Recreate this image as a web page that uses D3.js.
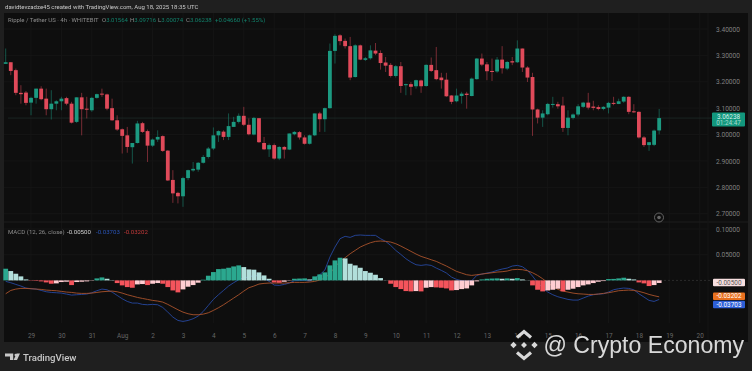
<!DOCTYPE html>
<html lang="en">
<head>
    <meta charset="UTF-8">
    <title>XRP/USDT 4h with MACD</title>
    <style>
        html, body { margin: 0; padding: 0; background: #1f1f1f; overflow: hidden; }
        text { font-family: Roboto, "Liberation Sans", sans-serif; }
    </style>
</head>
<body>
    <div id="chart-container"></div>
    <script src="https://d3js.org/d3.v7.min.js"></script>
    <script>
        const WIDTH = 752;
        const HEIGHT = 371;

        // candles, one per 4h
        const opens = [3.268,3.274,3.244,3.158,3.159,3.121,3.139,3.174,3.136,3.096,3.117,3.126,3.138,3.117,3.048,3.141,3.098,3.092,3.139,3.155,3.152,3.100,3.054,3.020,2.997,2.952,2.968,3.043,3.013,2.958,2.981,2.994,2.939,2.828,2.779,2.766,2.835,2.864,2.867,2.893,2.915,2.947,2.997,3.011,2.991,3.029,3.048,3.071,3.037,3.000,3.062,2.968,2.944,2.960,2.909,2.953,2.943,3.001,3.009,2.989,2.965,2.997,3.080,3.058,3.100,3.317,3.376,3.355,3.335,3.218,3.338,3.283,3.289,3.318,3.309,3.273,3.264,3.222,3.259,3.187,3.191,3.183,3.205,3.184,3.264,3.244,3.216,3.208,3.148,3.126,3.146,3.155,3.146,3.210,3.288,3.266,3.241,3.239,3.284,3.250,3.278,3.274,3.326,3.254,3.218,3.095,3.064,3.077,3.114,3.115,3.110,3.025,3.063,3.076,3.105,3.121,3.106,3.104,3.097,3.102,3.120,3.116,3.125,3.143,3.088,3.086,2.989,2.960,2.961,3.01564];
        const highs = [3.326,3.274,3.250,3.187,3.165,3.143,3.174,3.183,3.174,3.168,3.130,3.143,3.143,3.124,3.141,3.158,3.143,3.143,3.155,3.174,3.155,3.136,3.073,3.023,3.029,2.968,3.052,3.048,3.019,2.985,3.016,2.997,2.941,2.865,2.783,2.840,2.867,2.896,2.896,2.922,2.953,3.027,3.016,3.016,3.080,3.067,3.080,3.105,3.061,3.067,3.062,2.991,2.966,2.966,2.956,2.956,3.004,3.013,3.013,2.997,3.000,3.080,3.086,3.102,3.345,3.380,3.380,3.364,3.370,3.342,3.341,3.294,3.338,3.347,3.319,3.294,3.271,3.263,3.275,3.193,3.199,3.208,3.208,3.266,3.292,3.332,3.234,3.234,3.149,3.174,3.162,3.162,3.216,3.290,3.307,3.275,3.288,3.294,3.335,3.279,3.294,3.357,3.326,3.259,3.234,3.098,3.092,3.120,3.143,3.124,3.143,3.092,3.080,3.115,3.124,3.158,3.128,3.111,3.107,3.124,3.143,3.136,3.145,3.145,3.115,3.088,2.994,2.972,3.019,3.09716];
        const lows = [3.268,3.225,3.149,3.117,3.111,3.073,3.117,3.130,3.073,3.057,3.092,3.092,3.111,3.042,3.044,2.997,3.061,3.086,3.136,3.143,3.092,3.052,3.014,2.928,2.931,2.890,2.966,3.006,2.896,2.953,2.972,2.934,2.824,2.741,2.739,2.726,2.827,2.859,2.859,2.890,2.909,2.941,2.972,2.979,2.979,3.029,3.042,3.032,2.997,2.997,2.968,2.941,2.915,2.905,2.903,2.909,2.941,2.997,2.981,2.962,2.962,2.994,3.010,3.010,3.098,3.269,3.338,3.326,3.206,3.216,3.282,3.279,3.284,3.301,3.246,3.237,3.216,3.216,3.158,3.149,3.149,3.174,3.158,3.181,3.237,3.206,3.174,3.143,3.115,3.122,3.117,3.098,3.145,3.208,3.259,3.206,3.203,3.234,3.231,3.244,3.263,3.271,3.237,3.199,2.995,3.042,3.029,3.073,3.102,3.098,3.010,2.997,3.057,3.069,3.101,3.095,3.092,3.092,3.092,3.080,3.111,3.115,3.120,3.077,3.082,2.985,2.953,2.938,2.956,3.00074];
        const closes = [3.274,3.241,3.158,3.153,3.120,3.139,3.174,3.134,3.096,3.117,3.126,3.136,3.117,3.045,3.141,3.096,3.095,3.139,3.153,3.152,3.098,3.054,3.019,2.995,2.953,2.968,3.042,3.010,2.958,2.981,2.991,2.938,2.826,2.777,2.766,2.835,2.865,2.870,2.893,2.915,2.947,2.997,3.013,2.991,3.032,3.048,3.071,3.037,3.001,3.063,2.971,2.944,2.960,2.909,2.953,2.943,3.004,3.010,2.989,2.965,2.997,3.080,3.058,3.100,3.317,3.374,3.354,3.335,3.216,3.338,3.284,3.289,3.319,3.307,3.271,3.261,3.222,3.259,3.184,3.191,3.181,3.206,3.183,3.264,3.241,3.210,3.206,3.145,3.124,3.148,3.155,3.150,3.212,3.288,3.265,3.240,3.237,3.284,3.251,3.275,3.273,3.326,3.254,3.216,3.095,3.064,3.080,3.116,3.116,3.107,3.025,3.064,3.076,3.107,3.121,3.102,3.101,3.097,3.105,3.120,3.116,3.126,3.143,3.086,3.085,2.989,2.960,2.971,3.015,3.06238];

        const macdHist = [.0227,.0182,.0130,.0078,.0019,-.0006,-.0010,-.0019,-.0039,-.0065,-.0058,-.0032,-.0026,-.0091,-.0032,-.0026,-.0019,-.0006,.0039,.0058,.0032,.0006,-.0052,-.0097,-.0130,-.0143,-.0078,-.0071,-.0091,-.0065,-.0052,-.0065,-.0130,-.0195,-.0233,-.0175,-.0123,-.0091,-.0045,.0013,.0091,.0162,.0220,.0227,.0246,.0272,.0292,.0259,.0214,.0208,.0156,.0097,.0032,-.0039,-.0045,-.0026,-.0006,.0032,.0036,.0039,.0019,.0078,.0117,.0156,.0292,.0389,.0441,.0428,.0324,.0292,.0246,.0182,.0149,.0110,.0045,.0003,-.0065,-.0130,-.0169,-.0208,-.0214,-.0208,-.0214,-.0143,-.0130,-.0136,-.0143,-.0156,-.0195,-.0188,-.0169,-.0156,-.0097,-.0019,.0019,.0032,.0036,.0039,.0032,.0039,.0032,.0045,.0019,.0003,-.0097,-.0182,-.0214,-.0195,-.0182,-.0162,-.0214,-.0182,-.0162,-.0130,-.0097,-.0078,-.0052,-.0026,-.0013,.0026,.0029,.0039,.0052,.0032,.0019,-.0039,-.0058,-.0110,-.0091,-.0050];
        const macdLine = [-.0019,-.0045,-.0078,-.0110,-.0149,-.0162,-.0169,-.0195,-.0221,-.0234,-.0240,-.0247,-.0266,-.0286,-.0279,-.0273,-.0266,-.0240,-.0201,-.0169,-.0182,-.0227,-.0292,-.0357,-.0409,-.0441,-.0441,-.0467,-.0474,-.0467,-.0474,-.0526,-.0617,-.0714,-.0779,-.0798,-.0779,-.0746,-.0694,-.0604,-.0487,-.0370,-.0279,-.0195,-.0110,-.0045,.0013,.0052,.0065,.0097,.0084,.0039,-.0019,-.0091,-.0097,-.0078,-.0052,-.0006,-.0003,0,-.0013,.0045,.0110,.0201,.0454,.0649,.0811,.0857,.0837,.0876,.0883,.0876,.0876,.0876,.0811,.0759,.0681,.0584,.0506,.0422,.0357,.0305,.0292,.0305,.0292,.0240,.0195,.0143,.0065,.0019,-.0006,-.0019,-.0006,.0097,.0123,.0143,.0162,.0195,.0221,.0240,.0279,.0292,.0266,.0195,.0084,-.0045,-.0143,-.0227,-.0279,-.0318,-.0344,-.0370,-.0383,-.0383,-.0344,-.0305,-.0279,-.0266,-.0260,-.0227,-.0182,-.0162,-.0149,-.0156,-.0182,-.0260,-.0324,-.0389,-.0409,-.03703];
        const signalLine = [-.0260,-.0195,-.0169,-.0156,-.0156,-.0162,-.0169,-.0175,-.0188,-.0195,-.0201,-.0214,-.0227,-.0234,-.0247,-.0253,-.0253,-.0247,-.0234,-.0221,-.0214,-.0208,-.0221,-.0247,-.0279,-.0305,-.0331,-.0351,-.0370,-.0389,-.0402,-.0422,-.0467,-.0519,-.0571,-.0617,-.0649,-.0668,-.0668,-.0656,-.0630,-.0584,-.0532,-.0474,-.0409,-.0344,-.0279,-.0208,-.0143,-.0110,-.0071,-.0058,-.0052,-.0052,-.0052,-.0052,-.0045,-.0039,-.0039,-.0039,-.0032,-.0019,.0006,.0045,.0130,.0260,.0370,.0441,.0519,.0584,.0649,.0694,.0733,.0759,.0766,.0759,.0746,.0714,.0668,.0617,.0565,.0513,.0467,.0435,.0402,.0370,.0324,.0279,.0227,.0175,.0143,.0110,.0097,.0110,.0123,.0136,.0149,.0162,.0169,.0182,.0208,.0214,.0208,.0188,.0149,.0097,.0032,-.0045,-.0117,-.0175,-.0208,-.0227,-.0247,-.0260,-.0266,-.0273,-.0273,-.0266,-.0253,-.0240,-.0221,-.0201,-.0195,-.0188,-.0195,-.0214,-.0240,-.0273,-.0298,-.03202];

        const priceTicks = [2.7, 2.8, 2.9, 3.0, 3.1, 3.2, 3.3, 3.4];
        const macdTicks = [0.05, 0.10];
        const dayLabels = ["29","30","31","Aug","2","3","4","5","6","7","8","9","10","11","12","13","14","15","16","17","18","19","20"];
        const dayBars = dayLabels.map((d, i) => 5 + i * 6);

        const lastPrice = 3.06238;
        const countdown = "01:24:47";
        const lastValues = [
            {value: -0.00500, label: "-0.00500", fill: "#f7dfe0", color: "#555"},
            {value: -0.03202, label: "-0.03202", fill: "#e8701f", color: "#fff"},
            {value: -0.03703, label: "-0.03703", fill: "#2d5fd6", color: "#fff"}
        ];

        const GREEN = "#1c9a81";
        const RED = "#e04a5a";
        const GRID = "#151515";

        const bars = d3.range(opens.length);
        const x = d3.scaleLinear().domain([0, 131]).range([5.7, 669.3]);
        const y = d3.scaleLinear().domain([2.7, 3.4]).range([213.7, 29]);
        const yMacd = d3.scaleLinear().domain([0, 0.1]).range([280.4, 229]);

        const svg = d3.select("#chart-container").append("svg")
            .attr("width", WIDTH)
            .attr("height", HEIGHT)
            .style("display", "block");

        const chart = svg.append("g").style("filter", "blur(0.55px)");

        chart.append("rect").attr("x", 4).attr("y", 13).attr("width", 744).attr("height", 329).attr("fill", "#0e0e0e");

        // grid
        chart.append("g").selectAll("line").data(dayBars).join("line")
            .attr("x1", d => x(d)).attr("x2", d => x(d))
            .attr("y1", 13).attr("y2", 323)
            .attr("stroke", GRID);
        chart.append("g").selectAll("line").data(priceTicks).join("line")
            .attr("x1", 4).attr("x2", 708)
            .attr("y1", d => y(d)).attr("y2", d => y(d))
            .attr("stroke", GRID);
        chart.append("g").selectAll("line").data(macdTicks).join("line")
            .attr("x1", 4).attr("x2", 708)
            .attr("y1", d => yMacd(d)).attr("y2", d => yMacd(d))
            .attr("stroke", GRID);
        chart.append("line").attr("x1", 4).attr("x2", 748).attr("y1", 222).attr("y2", 222).attr("stroke", "#1c1c1c");
        chart.append("line").attr("x1", 708).attr("x2", 708).attr("y1", 13).attr("y2", 342).attr("stroke", "#141414");

        // last price line
        chart.append("line")
            .attr("x1", 8).attr("x2", 712)
            .attr("y1", y(lastPrice)).attr("y2", y(lastPrice))
            .attr("stroke", "#1d2b28").attr("stroke-width", 0.8);
        chart.append("line")
            .attr("x1", 8).attr("x2", 712)
            .attr("y1", yMacd(0)).attr("y2", yMacd(0))
            .attr("stroke", "#2b2b2b")
            .attr("stroke-dasharray", "2,2");

        // candles
        const candle = chart.append("g").selectAll("g").data(bars).join("g")
            .attr("fill", i => closes[i] >= opens[i] ? GREEN : RED)
            .attr("stroke", i => closes[i] >= opens[i] ? GREEN : RED);
        candle.append("line")
            .attr("x1", i => x(i)).attr("x2", i => x(i))
            .attr("y1", i => y(highs[i])).attr("y2", i => y(lows[i]))
            .attr("stroke-opacity", 0.5);
        candle.append("rect")
            .attr("x", i => x(i) - 1.9)
            .attr("width", 3.8)
            .attr("y", i => y(Math.max(opens[i], closes[i])))
            .attr("height", i => Math.max(1, Math.abs(y(opens[i]) - y(closes[i]))))
            .attr("stroke", "none");

        // macd lines go under the histogram here
        const macdPath = d3.line().x((d, i) => x(i)).y(d => yMacd(d));
        chart.append("path").datum(macdLine).attr("d", macdPath)
            .attr("fill", "none").attr("stroke", "#26479f").attr("stroke-width", 0.9);
        chart.append("path").datum(signalLine).attr("d", macdPath)
            .attr("fill", "none").attr("stroke", "#a9522b").attr("stroke-width", 0.9);

        const histColor = i => {
            const v = macdHist[i];
            const up = i === 0 || v >= macdHist[i - 1];
            if (v >= 0) return up ? "#2ba88f" : "#b2dfdb";
            return up ? "#ffcdd2" : "#f4545c";
        };
        chart.append("g").selectAll("rect").data(bars).join("rect")
            .attr("x", i => x(i) - 2.4)
            .attr("width", 4.8)
            .attr("y", i => yMacd(Math.max(0, macdHist[i])))
            .attr("height", i => Math.abs(yMacd(macdHist[i]) - yMacd(0)))
            .attr("fill", histColor);

        // axes
        const priceAxis = chart.append("g")
            .attr("transform", "translate(716,0)")
            .call(d3.axisRight(y).tickValues(priceTicks).tickFormat(d3.format(".5f")).tickSize(0).tickPadding(0));
        const macdAxis = chart.append("g")
            .attr("transform", "translate(716,0)")
            .call(d3.axisRight(yMacd).tickValues(macdTicks).tickFormat(d3.format(".5f")).tickSize(0).tickPadding(0));
        const dayAxis = chart.append("g")
            .attr("transform", "translate(0,333)")
            .call(d3.axisBottom(x).tickValues(dayBars).tickFormat((d, i) => dayLabels[i]).tickSize(0).tickPadding(0));
        [priceAxis, macdAxis].forEach(a => {
            a.select(".domain").remove();
            a.selectAll("text").attr("fill", "#808080").attr("font-size", "6.6px").style("font-family", "Roboto, sans-serif");
        });
        dayAxis.select(".domain").remove();
        dayAxis.selectAll("text").attr("fill", "#666").attr("font-size", "6.4px").style("font-family", "Roboto, sans-serif");

        // last value labels
        chart.append("rect").attr("x", 712).attr("y", y(lastPrice) - 5.5).attr("width", 33).attr("height", 14).attr("fill", "#12977d").attr("rx", 1);
        chart.append("text").attr("x", 728.5).attr("y", y(lastPrice) + 0.5).attr("text-anchor", "middle")
            .attr("font-size", "6.4px").attr("fill", "#d8f0ea").text(d3.format(".5f")(lastPrice));
        chart.append("text").attr("x", 728.5).attr("y", y(lastPrice) + 7).attr("text-anchor", "middle")
            .attr("font-size", "6.4px").attr("fill", "#a8dacd").text(countdown);

        const labelY = [282.4, 296.2, 304.4];
        const label = chart.append("g").selectAll("g").data(lastValues).join("g")
            .attr("transform", (d, i) => `translate(713,${labelY[i] - 3.6})`);
        label.append("rect").attr("width", 32).attr("height", 7.4).attr("rx", 1).attr("fill", d => d.fill);
        label.append("text").attr("x", 16).attr("y", 5.8).attr("text-anchor", "middle")
            .attr("font-size", "6.4px").attr("fill", d => d.color).text(d => d.label);

        // bell-ish circle near the bottom of the price pane
        chart.append("circle").attr("cx", 659).attr("cy", 217.5).attr("r", 4.5)
            .attr("fill", "none").attr("stroke", "#777").attr("stroke-width", 0.8);
        chart.append("circle").attr("cx", 659).attr("cy", 217.5).attr("r", 1.8).attr("fill", "#666");

        // header and legends
        chart.append("text").attr("x", 5).attr("y", 9.4).attr("font-size", "6px").attr("fill", "#c8c8c8")
            .text("davidtevzadze45 created with TradingView.com, Aug 18, 2025 18:35 UTC");

        const legend = chart.append("text").attr("x", 8).attr("y", 22.4).attr("font-size", "6px").attr("fill", "#8c8c8c");
        legend.append("tspan").text("Ripple / Tether US \u00b7 4h \u00b7 WHITEBIT");
        [["O", "3.01564", 102], ["H", "3.09716", 130], ["L", "3.00074", 158], ["C", "3.06238", 186]].forEach(d => {
            legend.append("tspan").attr("x", d[2]).text(d[0]);
            legend.append("tspan").attr("fill", "#12806b").text(d[1]);
        });
        legend.append("tspan").attr("x", 215).attr("fill", "#12806b").text("+0.04660 (+1.55%)");

        const macdLegend = chart.append("text").attr("x", 8).attr("y", 234.4).attr("font-size", "6.1px").attr("fill", "#8c8c8c");
        macdLegend.append("tspan").text("MACD (12, 26, close)");
        macdLegend.append("tspan").attr("x", 67).attr("fill", "#cfcfcf").text("-0.00500");
        macdLegend.append("tspan").attr("x", 96).attr("fill", "#2a55b8").text("-0.03703");
        macdLegend.append("tspan").attr("x", 124).attr("fill", "#c23a3a").text("-0.03202");

        // TradingView footer
        const tv = chart.append("g").attr("fill", "#c8c8c8");
        tv.append("path").attr("d", "M5 353.5h8.2v6.6h-3.2v-3.6h-5zM13.6 360.1l3-6.6h3.4l-3 6.6z");
        tv.append("circle").attr("cx", 15.8).attr("cy", 355).attr("r", 1.3);
        tv.append("text").attr("x", 23).attr("y", 360.6).attr("font-size", "9.6px").attr("font-weight", 500).text("TradingView");

        // Crypto Economy watermark
        const mark = svg.append("g").attr("fill", "#e6e6e6").attr("opacity", 0.94);
        const diamond = (cx, cy, r) => `M${cx} ${cy - r}L${cx + r} ${cy}L${cx} ${cy + r}L${cx - r} ${cy}Z`;
        mark.append("path").attr("d", [diamond(513.5, 345, 3.2), diamond(534.5, 345, 3.2), diamond(524, 345, 3)].join(""));
        mark.append("path").attr("fill", "none").attr("stroke", "#e6e6e6").attr("stroke-width", 3.2)
            .attr("d", "M517 337.5L524 331.5L531 337.5M517 352.5L524 358.5L531 352.5");
        mark.append("text").attr("x", 543.5).attr("y", 352.8)
            .attr("font-size", "23.1px")
            .style("font-family", "'Liberation Sans', sans-serif")
            .text("@ Crypto Economy");
    </script>
</body>
</html>
